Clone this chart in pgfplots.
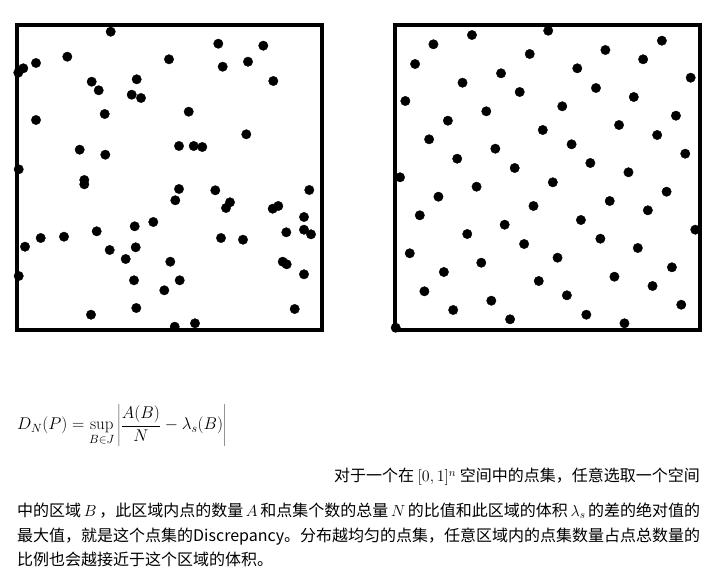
\RequirePackage{fix-cm}
\documentclass[border=0pt]{standalone}
\usepackage{pgfplots}
\pgfplotsset{compat=1.18}
\usepackage[no-math]{fontspec}
\newfontfamily\cjk{Noto Sans CJK SC}
\begin{document}
\begin{tikzpicture}[x=1pt,y=1pt]
\path[use as bounding box] (0,0) rectangle (714,586);
\pgfplotsset{dotbox/.style={width=305pt,height=305pt,scale only axis,
  y dir=reverse, ymin=25, ymax=330, ticks=none,
  axis line style={line width=3.8pt}, clip=false, anchor=south west},
  dots/.style={only marks, mark=*, mark size=4.7pt, black}}
\begin{axis}[dotbox, at={(17pt,256pt)}, xmin=17, xmax=322]
\addplot[dots] coordinates {
(110.7,31.7) (218.3,43.7) (263.3,45.7) (67.3,56.7) (169,59.3) (36,63)
(23.3,68.3) (18.3,72.7) (222.7,66.7) (248,61.7) (136.7,79.3) (91.7,81.7)
(98.7,90.3) (131.7,94.7) (141,98) (273.3,81) (104.7,114) (188.7,111.7)
(36,120) (246.3,134.3) (79.7,149.7) (105.3,154.7) (179,146) (193.7,146)
(202.3,147) (18.7,169.3) (84.3,180) (84.3,184.3) (179,189) (175.3,200.3)
(215.3,190.3) (309.3,190) (230,202.3) (226,208) (278.3,206) (272.7,208.7)
(304,217) (153.3,222) (134.7,226.3) (96.7,231.3) (64,236.7) (40.7,238)
(25,246.7) (286.3,232.3) (304,229.7) (311,234.3) (221,238) (243,239.7)
(109.7,250) (135.7,247.3) (125.7,259) (170.3,261.7) (282.7,261.7) (286.7,264.3)
(18.7,276) (134,280.3) (179.7,280.3) (304,274.3) (164.3,290.3) (136.3,308)
(91,314.7) (294.7,309) (174.7,326.7) (195,323.3)
};
\end{axis}
\begin{axis}[dotbox, at={(395pt,256pt)}, xmin=395, xmax=699]
\addplot[dots] coordinates {
(547.7,30.7) (471.7,35) (433.3,44.3) (661,40.7) (604.7,50) (529.3,54)
(642.3,59.3) (415,64) (576.7,68.3) (500.7,73.3) (689.7,77.7) (462.3,82.7)
(595.3,88) (519.3,92) (633,97) (405.3,101) (561.7,106.3) (486,111.3)
(675,115.7) (447.7,120.7) (618.3,125) (542.3,130) (656.3,135) (429,139.3)
(571,144.3) (495,148.7) (684.3,153.7) (457,158.7) (589.7,163) (514.3,168)
(627.7,172.3) (400,177.3) (552.3,182.3) (476.3,186.7) (665.7,191.7) (438.3,196.7)
(609,201) (533,206) (647,210.3) (419.7,215.3) (580.3,220) (504.3,224.7)
(694.3,229.7) (467,234) (599.7,238.7) (523.7,244) (637,248) (409.7,253.3)
(557,257.7) (481,262.7) (671,267.3) (443.7,272) (613.7,276.7) (538.3,281)
(651.7,286) (424.3,291.3) (566.3,295.3) (491,300.7) (680.3,304.7) (453,310)
(585.7,314.7) (509.7,319.3) (623.7,323.3) (395.7,327.7)
};
\end{axis}
\node[anchor=base west, inner sep=0pt, font=\fontsize{17}{20}\selectfont] at (17,156)
  {$\displaystyle D_N(P)=\sup_{B\in J}\left|\frac{A(B)}{N}-\lambda_s(B)\right|$};
\begin{scope}[every node/.style={inner sep=0pt, font=\fontsize{16}{19}\selectfont\cjk}]
\node[anchor=base east] at (700,104) {对于一个在 $[0,1]^n$ 空间中的点集，任意选取一个空间};
\node[anchor=base west] at (17,70) {\makebox[683pt][s]{中的区域 $B$ ，此区域内点的数量 $A$ 和点集个数的总量 $N$ 的比值和此区域的体积 $\lambda_s$ 的差的绝对值的}};
\node[anchor=base west] at (17,45) {最大值，就是这个点集的Discrepancy。分布越均匀的点集，任意区域内的点集数量占点总数量的};
\node[anchor=base west] at (17,21) {比例也会越接近于这个区域的体积。};
\end{scope}
\end{tikzpicture}
\end{document}
